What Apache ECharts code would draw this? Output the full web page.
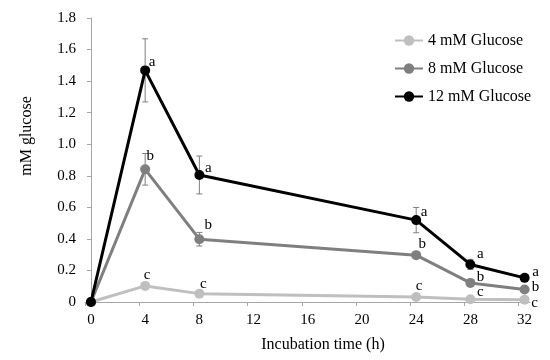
<!DOCTYPE html>
<html><head><meta charset="utf-8">
<script src="https://cdn.jsdelivr.net/npm/echarts@6/dist/echarts.min.js"></script>
<style>html,body{margin:0;padding:0;background:#fff}#c{width:550px;height:360px}</style>
</head><body><div id="c"></div>
<script>
// ---- data ----
const hours = [0, 4, 8, 24, 28, 32];
const glucose4mM = [0, 0.102, 0.053, 0.032, 0.017, 0.015];
const glucose8mM = [0, 0.841, 0.398, 0.297, 0.121, 0.079];
const glucose12mM = [0, 1.468, 0.805, 0.519, 0.238, 0.153];
const err4mM = [0, 0, 0, 0, 0, 0];
const err8mM = [0, 0.10, 0.043, 0, 0, 0];
const err12mM = [0, 0.20, 0.12, 0.08, 0.032, 0];
const letters4mM = ['', 'c', 'c', 'c', 'c', 'c'];
const letters8mM = ['', 'b', 'b', 'b', 'b', 'b'];
const letters12mM = ['', 'a', 'a', 'a', 'a', 'a'];
const seriesNames = ['4 mM Glucose', '8 mM Glucose', '12 mM Glucose'];
const xTickLabels = [0, 4, 8, 12, 16, 20, 24, 28, 32];
const yMin = 0, yMax = 1.8, yStep = 0.2;
const xTitle = 'Incubation time (h)';
const yTitle = 'mM glucose';

// ---- styling ----
const FONT = 'Liberation Serif';
const colors = ['#bfbfbf', '#7f7f7f', '#000000'];
const labelOffsets = [
  [[0,0],[2,-11],[4,-10],[3,-11],[10,-7],[10,3]],
  [[0,0],[5,-13],[9,-14],[6,-11],[10,-6],[11,-2]],
  [[0,0],[7,-8],[9,-7],[8,-8],[10,-10],[11,-6]]
];
const xShift = 0.44;

const values = [glucose4mM, glucose8mM, glucose12mM];
const errs = [err4mM, err8mM, err12mM];
const letters = [letters4mM, letters8mM, letters12mM];

const series = [];
values.forEach((vals, s) => {
  series.push({
    type: 'custom',
    silent: true,
    z: 1,
    data: hours.map((h, i) => [h, vals[i] - errs[s][i], vals[i] + errs[s][i], errs[s][i]]),
    renderItem: function (params, api) {
      if (api.value(3) <= 0) return null;
      const lo = api.coord([api.value(0), api.value(1)]);
      const hi = api.coord([api.value(0), api.value(2)]);
      const w = 3;
      const st = { stroke: '#7f7f7f', lineWidth: 1 };
      return { type: 'group', children: [
        { type: 'line', shape: { x1: lo[0], y1: lo[1], x2: hi[0], y2: hi[1] }, style: st },
        { type: 'line', shape: { x1: lo[0]-w, y1: lo[1], x2: lo[0]+w, y2: lo[1] }, style: st },
        { type: 'line', shape: { x1: hi[0]-w, y1: hi[1], x2: hi[0]+w, y2: hi[1] }, style: st }
      ]};
    }
  });
});
values.forEach((vals, s) => {
  series.push({
    name: seriesNames[s],
    type: 'line',
    z: 2 + s,
    symbol: 'circle',
    symbolSize: 10,
    lineStyle: { color: colors[s], width: 3 },
    itemStyle: { color: colors[s] },
    data: hours.map((h, i) => ({
      value: [h, vals[i]],
      label: {
        show: letters[s][i] !== '',
        formatter: letters[s][i],
        position: 'inside',
        offset: labelOffsets[s][i],
        color: '#000',
        fontFamily: FONT,
        fontSize: 15
      }
    }))
  });
});

const chart = echarts.init(document.getElementById('c'));
chart.setOption({
  animation: false,
  grid: { left: 85, right: 20, top: 18, bottom: 58 },
  legend: {
    orient: 'vertical',
    left: 389,
    top: 27,
    itemWidth: 28,
    itemHeight: 13,
    itemGap: 11,
    data: seriesNames,
    itemStyle: { borderWidth: 0 },
    textStyle: { fontFamily: FONT, fontSize: 16, color: '#000', lineHeight: 17 }
  },
  xAxis: {
    type: 'value',
    min: -xShift,
    max: 32.4,
    splitLine: { show: false },
    axisLine: { lineStyle: { color: '#a6a6a6', width: 1 } },
    axisTick: { show: true, length: 4, lineStyle: { color: '#a6a6a6' },
      customValues: xTickLabels.map(v => v - xShift) },
    axisLabel: { customValues: xTickLabels, margin: 11, color: '#000', fontFamily: FONT, fontSize: 15 }
  },
  yAxis: {
    type: 'value',
    min: yMin, max: yMax, interval: yStep,
    splitLine: { show: false },
    axisLine: { show: true, lineStyle: { color: '#a6a6a6', width: 1 } },
    axisTick: { show: true, length: 4, lineStyle: { color: '#a6a6a6' } },
    axisLabel: { margin: 9, color: '#000', fontFamily: FONT, fontSize: 15,
      formatter: v => (Math.abs(v) < 1e-9 ? '0' : v.toFixed(1)) }
  },
  graphic: [
    { type: 'text', x: 27, y: 136, rotation: Math.PI / 2,
      style: { text: yTitle, fontFamily: FONT, fontSize: 16, fill: '#000', textAlign: 'center', textVerticalAlign: 'middle' } },
    { type: 'text', x: 323, y: 345,
      style: { text: xTitle, fontFamily: FONT, fontSize: 16, fill: '#000', textAlign: 'center', textVerticalAlign: 'middle' } }
  ],
  series: series
});
</script>
</body></html>
